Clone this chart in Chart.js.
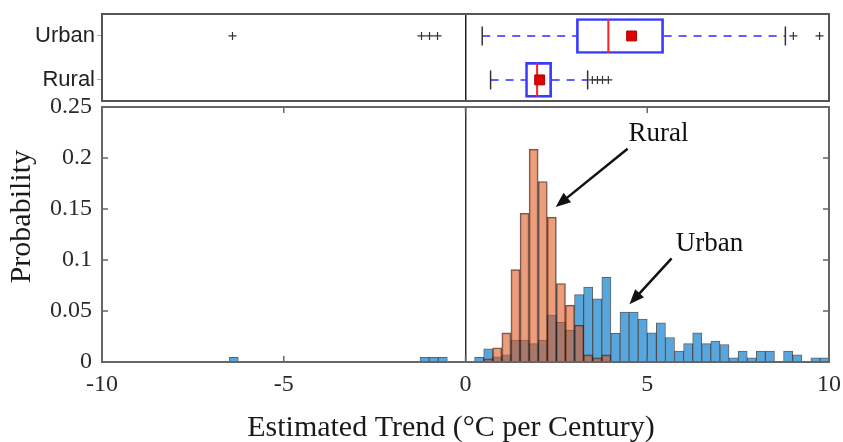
<!DOCTYPE html>
<html>
<head>
<meta charset="utf-8">
<script src="https://cdn.jsdelivr.net/npm/chart.js@4.4.0/dist/chart.umd.min.js"></script>
<style>
html, body { margin: 0; padding: 0; background: #fff; }
#wrap { position: relative; width: 843px; height: 442px; }
canvas { position: absolute; left: 0; top: 0; }
</style>
</head>
<body>
<div id="wrap">
  <canvas id="hist" width="843" height="442"></canvas>
  <canvas id="box" width="843" height="442"></canvas>
</div>
<script>
// histogram bins (centres, width 0.25) and probabilities
var urbanCenters = [-6.375, -1.125, -0.875, -0.625,
    0.375, 0.625, 0.875, 1.125, 1.375, 1.625, 1.875, 2.125, 2.375, 2.625, 2.875,
    3.125, 3.375, 3.625, 3.875, 4.125, 4.375, 4.625, 4.875, 5.125, 5.375, 5.625,
    5.875, 6.125, 6.375, 6.625, 6.875, 7.125, 7.375, 7.625, 7.875, 8.125, 8.375,
    8.875, 9.125, 9.625, 9.875];
var urbanProb = [0.0045, 0.0045, 0.0045, 0.0045,
    0.0046, 0.013, 0.005, 0.007, 0.0215, 0.0215, 0.018, 0.0215, 0.046, 0.039, 0.031,
    0.066, 0.0735, 0.062, 0.083, 0.028, 0.049, 0.049, 0.042, 0.0287, 0.0384, 0.024,
    0.0107, 0.018, 0.0287, 0.018, 0.0205, 0.0172, 0.0042, 0.0107, 0.0042, 0.0107, 0.0107,
    0.0107, 0.007, 0.0042, 0.0042];

var ruralCenters = [0.625, 0.875, 1.125, 1.375, 1.625, 1.875, 2.125, 2.375, 2.625, 2.875, 3.125, 3.375, 3.625, 3.875];
var ruralProb = [0.003, 0.014, 0.0286, 0.0905, 0.1458, 0.2087, 0.177, 0.142, 0.077, 0.0557, 0.036, 0.007, 0.004, 0.007];

var xTicks = [-10, -5, 0, 5, 10];
var yTicks = [0, 0.05, 0.1, 0.15, 0.2, 0.25];
var xTitle = 'Estimated Trend (°C per Century)';
var yTitle = 'Probability';

// box plot summary (°C per century)
var boxNames = ['Urban', 'Rural'];
var boxRows = [2, 1];
var whiskerLow = [0.46, 0.69];
var q1 = [3.05, 1.65];
var median = [3.93, 1.97];
var mean = [4.57, 2.04];
var q3 = [5.45, 2.37];
var whiskerHigh = [8.8, 3.36];
var urbanOutliers = [-6.41, -1.21, -0.99, -0.77, 9.02, 9.74];
var ruralOutliers = [3.49, 3.63, 3.77, 3.93];

// text labels with arrows, in data coordinates
var notes = [
    { text: 'Rural', x: 5.31, y: 0.2236, from: [4.46, 0.209], to: [2.48, 0.152] },
    { text: 'Urban', x: 6.71, y: 0.116, from: [5.67, 0.1016], to: [4.51, 0.0566] }
];

var serif = "'Liberation Serif', 'Times New Roman', serif";
var axisGray = '#666';

function pts(xs, ys) {
    return xs.map(function (x, i) { return { x: x, y: ys[i] }; });
}

function drawArrow(ctx, x1, y1, x2, y2) {
    var a = Math.atan2(y2 - y1, x2 - x1), h = 15, w = 6;
    ctx.beginPath();
    ctx.moveTo(x1, y1);
    ctx.lineTo(x2 - Math.cos(a) * h * 0.7, y2 - Math.sin(a) * h * 0.7);
    ctx.stroke();
    ctx.beginPath();
    ctx.moveTo(x2, y2);
    ctx.lineTo(x2 - h * Math.cos(a) + w * Math.sin(a), y2 - h * Math.sin(a) - w * Math.cos(a));
    ctx.lineTo(x2 - h * Math.cos(a) - w * Math.sin(a), y2 - h * Math.sin(a) + w * Math.cos(a));
    ctx.closePath();
    ctx.fill();
}

var histDecor = {
    id: 'histDecor',
    afterDraw: function (chart) {
        var ctx = chart.ctx, a = chart.chartArea;
        var xs = chart.scales.x, ys = chart.scales.y;
        ctx.save();
        ctx.strokeStyle = axisGray;
        ctx.lineWidth = 1.5;
        xTicks.forEach(function (v) {
            if (v === -10 || v === 10) return;
            var px = xs.getPixelForValue(v);
            ctx.beginPath();
            ctx.moveTo(px, a.bottom); ctx.lineTo(px, a.bottom - 6);
            ctx.moveTo(px, a.top); ctx.lineTo(px, a.top + 6);
            ctx.stroke();
        });
        yTicks.forEach(function (v) {
            if (v === 0 || v === 0.25) return;
            var py = ys.getPixelForValue(v);
            ctx.beginPath();
            ctx.moveTo(a.left, py); ctx.lineTo(a.left + 6, py);
            ctx.moveTo(a.right, py); ctx.lineTo(a.right - 6, py);
            ctx.stroke();
        });
        ctx.lineWidth = 2;
        ctx.strokeRect(a.left, a.top, a.right - a.left, a.bottom - a.top);

        // axis titles (sit a little left / above centre in the original)
        ctx.fillStyle = '#1a1a1a';
        ctx.font = '30px ' + serif;
        ctx.textAlign = 'center';
        ctx.textBaseline = 'middle';
        ctx.fillText(xTitle, a.left + (a.right - a.left) * 0.48, 428);
        ctx.save();
        ctx.translate(22, a.top + (a.bottom - a.top) * 0.43);
        ctx.rotate(-Math.PI / 2);
        ctx.fillText(yTitle, 0, 0);
        ctx.restore();

        ctx.fillStyle = '#111';
        ctx.strokeStyle = '#111';
        ctx.lineWidth = 2.5;
        ctx.font = '27px ' + serif;
        notes.forEach(function (n) {
            ctx.fillText(n.text, xs.getPixelForValue(n.x), ys.getPixelForValue(n.y));
            drawArrow(ctx, xs.getPixelForValue(n.from[0]), ys.getPixelForValue(n.from[1]),
                xs.getPixelForValue(n.to[0]), ys.getPixelForValue(n.to[1]));
        });
        ctx.restore();
    }
};

new Chart(document.getElementById('hist'), {
    type: 'bar',
    data: {
        datasets: [
            {
                label: 'Rural',
                data: pts(ruralCenters, ruralProb),
                backgroundColor: 'rgba(222,88,30,0.58)',
                borderColor: 'rgba(30,30,30,0.7)',
                borderWidth: 1
            },
            {
                label: 'Urban',
                data: pts(urbanCenters, urbanProb),
                backgroundColor: 'rgb(88,166,222)',
                borderColor: 'rgba(30,30,30,0.7)',
                borderWidth: 1
            }
        ]
    },
    options: {
        responsive: false,
        animation: false,
        grouped: false,
        barPercentage: 1,
        categoryPercentage: 1,
        layout: { padding: { top: 107, right: 14, left: 0, bottom: 0 } },
        plugins: { legend: { display: false }, tooltip: { enabled: false } },
        scales: {
            x: {
                type: 'linear',
                min: -10,
                max: 10,
                offset: false,
                afterBuildTicks: function (s) { s.ticks = xTicks.map(function (v) { return { value: v }; }); },
                afterFit: function (s) { s.height = 80; s.paddingLeft = 0; s.paddingRight = 0; },
                grid: {
                    offset: false,
                    drawTicks: false,
                    lineWidth: 1.5,
                    color: function (c) { return c.tick && c.tick.value === 0 ? '#333' : 'rgba(0,0,0,0)'; }
                },
                border: { display: false },
                ticks: { color: '#2a2a2a', font: { family: serif, size: 24 }, padding: 8, maxRotation: 0 }
            },
            y: {
                min: 0,
                max: 0.25,
                afterBuildTicks: function (s) { s.ticks = yTicks.map(function (v) { return { value: v }; }); },
                afterFit: function (s) { s.width = 102; s.paddingTop = 0; s.paddingBottom = 0; },
                grid: { display: false, drawTicks: false },
                border: { display: false },
                ticks: {
                    color: '#2a2a2a',
                    font: { family: serif, size: 24 },
                    padding: 10,
                    callback: function (v) { return String(+v.toFixed(2)); }
                }
            }
        }
    },
    plugins: [histDecor]
});

var boxFrame = {
    id: 'boxFrame',
    afterDraw: function (chart) {
        var ctx = chart.ctx, a = chart.chartArea;
        ctx.save();
        ctx.strokeStyle = '#555';
        ctx.lineWidth = 2;
        ctx.strokeRect(a.left, a.top, a.right - a.left, a.bottom - a.top);
        ctx.restore();
    }
};

var boxDatasets = [
    {
        type: 'bar',
        indexAxis: 'y',
        data: boxRows.map(function (r, i) { return { x: [q1[i], q3[i]], y: r }; }),
        backgroundColor: 'rgba(255,255,255,0)',
        borderColor: '#3b3bff',
        borderWidth: 2,
        borderSkipped: false,
        barThickness: 35,
        order: 3
    },
    {
        type: 'scatter',
        data: pts(median, boxRows),
        pointStyle: 'line',
        rotation: 90,
        radius: 17,
        borderColor: '#ff2020',
        borderWidth: 2,
        order: 1
    },
    {
        type: 'scatter',
        data: pts(mean, boxRows),
        pointStyle: 'rect',
        radius: 7,
        backgroundColor: '#e00000',
        borderColor: '#b00000',
        borderWidth: 1,
        order: 0
    },
    {
        type: 'scatter',
        data: pts(whiskerLow.concat(whiskerHigh), boxRows.concat(boxRows)),
        pointStyle: 'line',
        rotation: 90,
        radius: 9.5,
        borderColor: '#333',
        borderWidth: 1.5,
        order: 2
    },
    {
        type: 'scatter',
        data: urbanOutliers.map(function (v) { return { x: v, y: boxRows[0] }; })
            .concat(ruralOutliers.map(function (v) { return { x: v, y: boxRows[1] }; })),
        pointStyle: 'cross',
        radius: 4,
        borderColor: '#333',
        borderWidth: 1.2,
        order: 2
    }
];

boxRows.forEach(function (r, i) {
    [[whiskerLow[i], q1[i]], [q3[i], whiskerHigh[i]]].forEach(function (seg) {
        boxDatasets.push({
            type: 'line',
            data: [{ x: seg[0], y: r }, { x: seg[1], y: r }],
            borderColor: '#6060ff',
            borderWidth: 2,
            borderDash: [8, 7],
            pointRadius: 0,
            order: 4
        });
    });
});

new Chart(document.getElementById('box'), {
    type: 'bar',
    data: { datasets: boxDatasets },
    options: {
        responsive: false,
        animation: false,
        layout: { autoPadding: false, padding: { top: 14, right: 14, left: 0, bottom: 341 } },
        plugins: { legend: { display: false }, tooltip: { enabled: false } },
        scales: {
            x: {
                type: 'linear',
                min: -10,
                max: 10,
                offset: false,
                afterBuildTicks: function (s) { s.ticks = [{ value: 0 }]; },
                afterFit: function (s) { s.height = 0; s.paddingLeft = 0; s.paddingRight = 0; },
                grid: { offset: false, drawTicks: false, color: '#222', lineWidth: 1.5 },
                border: { display: false },
                ticks: { display: false }
            },
            y: {
                type: 'linear',
                min: 0.52,
                max: 2.5,
                offset: false,
                afterBuildTicks: function (s) { s.ticks = boxRows.map(function (v) { return { value: v }; }); },
                afterFit: function (s) { s.width = 102; s.paddingTop = 0; s.paddingBottom = 0; },
                grid: { offset: false, drawOnChartArea: false, drawTicks: true, tickLength: 5, color: '#aaa' },
                border: { display: false },
                ticks: {
                    color: '#222',
                    padding: 2,
                    font: { family: "'Liberation Sans', Arial, sans-serif", size: 22 },
                    callback: function (v) { return boxNames[boxRows.indexOf(v)]; }
                }
            }
        }
    },
    plugins: [boxFrame]
});
</script>
</body>
</html>
